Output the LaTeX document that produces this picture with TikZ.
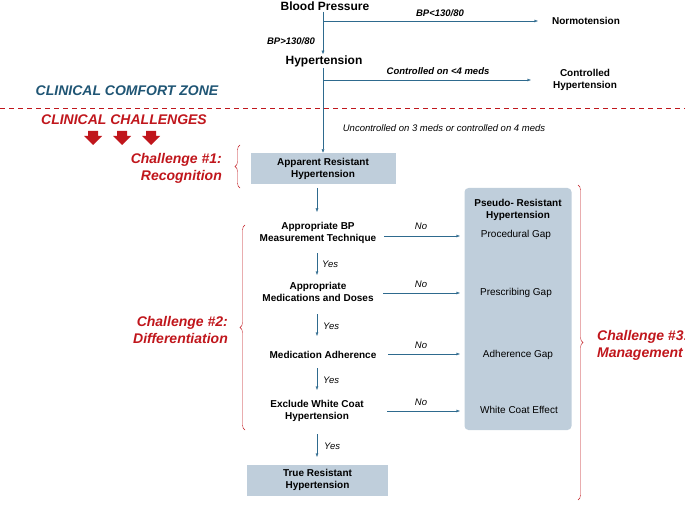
\documentclass[tikz,border=0pt]{standalone}
\usepackage{fontspec}
\setmainfont{Liberation Sans}
\usetikzlibrary{arrows.meta}
\usetikzlibrary{decorations.pathreplacing}
\usetikzlibrary{positioning}
\definecolor{flowblue}{HTML}{2E6A8E}
\definecolor{boxfill}{HTML}{BFCEDB}
\definecolor{zoneteal}{HTML}{1F5574}
\definecolor{chalred}{HTML}{C0161C}
\tikzset {
  % connector with small arrow tip
  arr/.style = {
    draw = flowblue,
    -{Latex[length=3.5pt,width=3pt]}
  },
  trunk/.style = {
    draw = flowblue
  },
  flow step/.style = {
    font = \bfseries\fontsize{10}{12}\selectfont,
    align = center,
    inner sep = 1pt
  },
  big step/.style = {
    flow step,
    font = \bfseries\fontsize{12}{14}\selectfont
  },
  % shaded box
  sbox/.style = {
    flow step,
    fill = boxfill,
    minimum width = 145pt,
    minimum height = 31pt
  },
  gap/.style = {
    font = \fontsize{10}{12}\selectfont,
    inner sep = 1pt
  },
  lbl/.style = {
    font = \itshape\fontsize{9.5}{11}\selectfont,
    inner sep = 1pt
  },
  blbl/.style = {
    lbl,
    font = \bfseries\itshape\fontsize{9.5}{11}\selectfont
  },
  chal/.style = {
    font = \bfseries\itshape\fontsize{14}{17}\selectfont,
    text = chalred,
    inner sep = 0
  },
  brace/.style = {
    draw = chalred,
    decorate,
    decoration = {brace, amplitude = 5pt}
  }
}
\begin{document}
\begin{tikzpicture}[x=1pt, y=-1pt]
  \useasboundingbox (0,0) rectangle (685,505);

  % top part
  \node[big step] (bp) at (325,6) {Blood Pressure};
  \coordinate (bp-fork) at (323,21);
  \node[flow step] (normo) at (586,21) {Normotension};
  \node[big step] (hyp) at (324,61) {Hypertension};
  \coordinate (hyp-fork) at (323,80);
  \node[flow step] (ctrl) at (585,80) {Controlled\\Hypertension};

  \draw[trunk] (bp.south -| bp-fork) -- (bp-fork);
  \draw[arr] (bp-fork) -- (538,21) coordinate (normo-in);
  \node[blbl] at (440,13) {BP<130/80};
  \draw[arr] (bp-fork) -- (hyp.north -| bp-fork);
  \node[blbl] at (291,41) {BP>130/80};
  \draw[arr] (hyp-fork) -- (531,80) coordinate (ctrl-in);
  \node[blbl] at (438,71) {Controlled on <4 meds};
  \draw[trunk] (hyp.south -| hyp-fork) -- (hyp-fork);

  % zones
  \node[chal, text=zoneteal] (comfort) at (127,91) {CLINICAL COMFORT ZONE};
  \draw[chalred, thick, dash pattern=on 5pt off 4pt] (0,108) -- (685,108);
  \node[chal] (challenges) at (124,120) {CLINICAL CHALLENGES};
  \foreach \x in {93,122,151}
    \fill[chalred] (\x-5,131) -- (\x+5,131) -- (\x+5,136) -- (\x+9,136)
      -- (\x,145) -- (\x-9,136) -- (\x-5,136) -- cycle;

  % main column
  \node[sbox] (apparent) at (323,168.5) {Apparent Resistant\\Hypertension};
  \draw[arr] (hyp-fork) -- (apparent.north -| hyp-fork);
  \node[lbl] at (444,128) {Uncontrolled on 3 meds or controlled on 4 meds};

  \node[flow step] (technique) at (318,233) {Appropriate BP\\Measurement Technique};
  \node[flow step] (doses) at (318,292) {Appropriate\\Medications and Doses};
  \node[flow step] (adherence) at (323,355) {Medication Adherence};
  \node[flow step] (whitecoat) at (317,411) {Exclude White Coat\\Hypertension};
  \node[sbox, minimum width=141pt] (true) at (317.5,480) {True Resistant\\Hypertension};

  \draw[arr] (317,188) -- (317,212);
  \draw[arr] (317,253) -- (317,275);
  \node[lbl, anchor=west] at (321,264) {Yes};
  \draw[arr] (317,314) -- (317,336);
  \node[lbl, anchor=west] at (322,326) {Yes};
  \draw[arr] (317,368) -- (317,390);
  \node[lbl, anchor=west] at (322,380) {Yes};
  \draw[arr] (317,434) -- (317,457);
  \node[lbl, anchor=west] at (323,446) {Yes};

  % pseudo-resistant box
  \node[fill=boxfill, rounded corners=4pt, minimum width=107pt, minimum height=242pt,
    inner sep=0] (pseudo) at (518,309) {};
  \node[flow step] (pseudo-title) at (518,210) {Pseudo- Resistant\\Hypertension};
  \node[gap] (procedural) at (516,235) {Procedural Gap};
  \node[gap] (prescribing) at (516,293) {Prescribing Gap};
  \node[gap] (adhgap) at (518,355) {Adherence Gap};
  \node[gap] (wceffect) at (519,410) {White Coat Effect};

  \draw[arr] (384,236) -- (460,236);
  \node[lbl] at (421,226) {No};
  \draw[arr] (383,293) -- (460,293);
  \node[lbl] at (421,284) {No};
  \draw[arr] (388,354) -- (460,354);
  \node[lbl] at (421,345) {No};
  \draw[arr] (387,411) -- (460,411);
  \node[lbl] at (421,402) {No};

  % challenges with braces
  \draw[brace] (240,188) -- (240,145);
  \node[chal, align=right, anchor=east] (chal-one) at (222,168) {Challenge \#1:\\Recognition};
  \draw[brace] (245,430) -- (245,225);
  \node[chal, align=right, anchor=east] (chal-two) at (228,330) {Challenge \#2:\\Differentiation};
  \draw[brace] (578,185) -- (578,500);
  \node[chal, align=left, anchor=west] (chal-three) at (597,345) {Challenge \#3:\\Management};
\end{tikzpicture}
\end{document}
